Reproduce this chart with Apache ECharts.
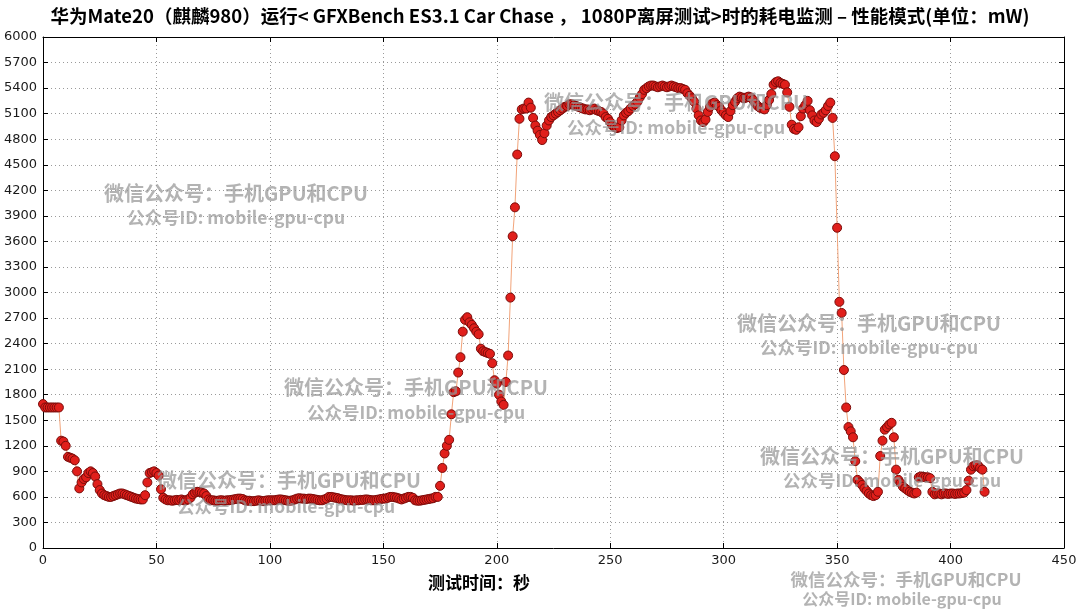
<!DOCTYPE html>
<html>
<head>
<meta charset="utf-8">
<script src="https://cdn.jsdelivr.net/npm/echarts@6/dist/echarts.min.js"></script>
<style>
html,body{margin:0;padding:0;background:#fff;}
#c{width:1080px;height:611px;}
</style>
</head>
<body>
<div id="c"></div>
<script>
const titleText = '华为Mate20（麒麟980）运行< GFXBench ES3.1 Car Chase ， 1080P离屏测试>时的耗电监测 – 性能模式(单位：mW)';
const xAxisName = '测试时间：秒';
const xTicks = {min: 0, max: 450, interval: 50};
const yTicks = {min: 0, max: 6000, interval: 300};
const watermarkLine1 = '微信公众号：手机GPU和CPU';
const watermarkLine2 = '公众号ID: mobile-gpu-cpu';

// power (mW), one sample per second starting at t = 0
const power = [
 1690,1650,1650,1650,1650,1650,1650,1650,1260,1250,
 1200,1070,1060,1050,1030,900,700,770,810,830,
 880,900,880,840,750,680,640,620,610,600,
 600,610,620,630,640,640,630,620,610,600,
 590,580,575,570,570,620,770,880,890,900,
 880,850,690,590,570,560,560,555,560,565,
 560,570,560,560,570,590,630,650,660,660,
 650,640,610,570,560,560,555,555,560,560,
 555,560,560,565,570,575,580,580,575,560,
 555,555,550,550,555,560,555,550,555,560,
 560,560,560,565,570,570,565,560,555,555,
 560,570,580,585,580,580,575,580,580,575,
 570,565,560,560,570,580,600,600,595,590,
 585,575,570,565,560,560,560,555,560,560,
 565,565,570,570,565,560,560,565,570,575,
 580,580,590,600,600,595,590,580,570,580,
 590,600,600,590,560,555,555,560,565,570,
 575,580,585,600,600,730,940,1110,1200,1270,
 1570,1830,1840,2060,2240,2540,2680,2710,2650,2620,
 2580,2540,2510,2340,2310,2300,2290,2280,2170,1970,
 1930,1800,1720,1680,1950,2260,2940,3660,4000,4620,
 5040,5150,5160,5160,5230,5170,5050,4960,4900,4850,
 4790,4870,4960,5020,5060,5080,5100,5120,5140,5160,
 5180,5190,5210,5210,5200,5190,5180,5170,5160,5150,
 5150,5140,5150,5160,5140,5130,5120,5100,5060,5040,
 5000,4960,4940,4930,4940,5020,5080,5110,5130,5160,
 5190,5210,5240,5290,5330,5380,5400,5420,5430,5430,
 5420,5410,5420,5430,5420,5410,5420,5430,5420,5410,
 5400,5400,5390,5380,5340,5310,5280,5240,5160,5080,
 5020,5000,5030,5120,5180,5220,5230,5200,5180,5140,
 5110,5080,5060,5130,5200,5240,5280,5300,5290,5280,
 5290,5300,5290,5260,5220,5190,5170,5160,5150,5200,
 5260,5330,5440,5470,5480,5460,5450,5440,5350,5180,
 4970,4920,4910,4940,5070,5160,5200,5250,5140,5080,
 5020,5000,5040,5090,5110,5140,5190,5230,5050,4600,
 3760,2890,2760,2090,1650,1420,1370,1300,1020,800,
 770,740,700,670,640,620,610,620,660,1080,
 1260,1390,1420,1450,1470,1300,920,800,760,720,
 700,680,660,650,640,650,830,840,835,830,
 830,820,660,630,640,640,630,640,640,635,
 640,640,635,640,640,645,650,680,790,920,
 960,970,970,940,920,660
];

// watermark anchor positions (pixel centres of line 1 / line 2)
const watermarkPos = [
 [236,193,236,217],
 [416,387,416,412],
 [676,102,676,127],
 [869,323,869,347],
 [892,456,892,480],
 [289,480,286,506],
 [906,579,902,599]
];

const chart = echarts.init(document.getElementById('c'), null, {renderer:'canvas'});
const seriesData = power.map((v,i)=>[i,v]);

const fontNum = 'DejaVu Sans, sans-serif';
const cjk = '"Noto Sans CJK SC", sans-serif';

function axisCommon(lim, showLabel){
  return {
    type:'value', min:lim.min, max:lim.max, interval:lim.interval,
    axisLine:{show:true, onZero:false, lineStyle:{color:'#000', width:1}},
    axisTick:{show:true, inside:true, length:5, lineStyle:{color:'#000', width:1}},
    axisLabel:{show:showLabel, color:'#1a1a1a', fontSize:13, fontFamily:fontNum, margin:6,
      formatter:function(v){return String(v);}},
    splitLine:{show:showLabel, lineStyle:{color:'#9a9a9a', type:[1,3], width:1}}
  };
}

const graphics = [];
watermarkPos.forEach((p,idx)=>{
  const f1 = idx===6 ? 17.5 : 20;
  const f2 = idx===6 ? 16 : 17.5;
  graphics.push({type:'text', x:p[0], y:p[1], z:100, silent:true,
    style:{text:watermarkLine1, font:'bold '+f1+'px '+cjk, fill:'rgba(150,150,150,0.72)', textAlign:'center', textVerticalAlign:'middle'}});
  graphics.push({type:'text', x:p[2], y:p[3], z:100, silent:true,
    style:{text:watermarkLine2, font:'bold '+f2+'px '+cjk, fill:'rgba(150,150,150,0.72)', textAlign:'center', textVerticalAlign:'middle'}});
});
graphics.push({type:'text', x:428, y:583, z:50, silent:true,
  style:{text:xAxisName, font:'bold 17px '+cjk, fill:'#000', textAlign:'left', textVerticalAlign:'middle'}});

const option = {
  animation:false,
  backgroundColor:'#fff',
  title:{text:titleText, left:'center', top:2,
    textStyle:{fontSize:18.5, fontWeight:'bold', color:'#000', fontFamily:cjk}},
  grid:{left:43, right:16, top:37, bottom:63, show:false},
  xAxis:[
    Object.assign(axisCommon(xTicks,true),{position:'bottom'}),
    Object.assign(axisCommon(xTicks,false),{position:'top'})
  ],
  yAxis:[
    Object.assign(axisCommon(yTicks,true),{position:'left'}),
    Object.assign(axisCommon(yTicks,false),{position:'right'})
  ],
  series:[{
    type:'line', data:seriesData, xAxisIndex:0, yAxisIndex:0,
    symbol:'circle', symbolSize:9, showAllSymbol:true,
    lineStyle:{color:'#f2a47a', width:1},
    itemStyle:{color:'#e01f1b', borderColor:'#7a0c0a', borderWidth:1}
  }],
  graphic:graphics
};
chart.setOption(option);
</script>
</body>
</html>
